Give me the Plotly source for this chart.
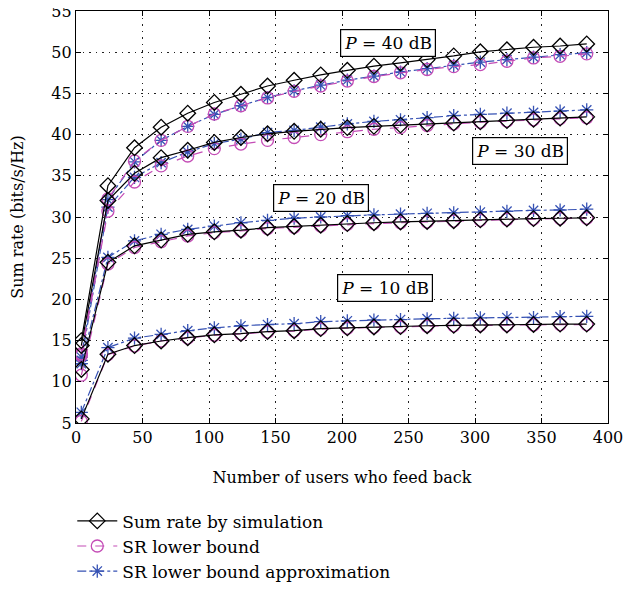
import plotly.graph_objects as go

users = [4, 24, 44, 64, 84, 104, 124, 144, 164, 184, 204, 224, 244, 264, 284, 304, 324, 344, 364, 384]

# P = 40 dB
sim_40 = [15.0, 33.8, 38.4, 40.9, 42.6, 43.9, 44.9, 45.9, 46.6, 47.25, 47.8, 48.3, 48.7, 49.1, 49.55, 50.05, 50.3, 50.6, 50.75, 51.0]
lb_40 = [13.4, 32.2, 36.8, 39.3, 41.0, 42.5, 43.5, 44.45, 45.25, 45.9, 46.5, 47.05, 47.5, 47.9, 48.25, 48.5, 48.9, 49.3, 49.5, 49.8]
ap_40 = [13.0, 32.1, 36.7, 39.3, 41.0, 42.45, 43.5, 44.5, 45.3, 46.0, 46.6, 47.1, 47.6, 48.0, 48.4, 48.8, 49.1, 49.4, 49.7, 49.95]

# P = 30 dB
sim_30 = [14.4, 32.0, 35.3, 37.2, 38.1, 39.05, 39.65, 40.1, 40.4, 40.65, 40.85, 41.0, 41.15, 41.3, 41.4, 41.55, 41.7, 41.85, 42.0, 42.15]
lb_30 = [13.2, 30.7, 34.25, 36.2, 37.4, 38.3, 38.85, 39.3, 39.65, 40.0, 40.35, 40.65, 40.85, 41.1, 41.3, 41.5, 41.65, 41.8, 41.95, 42.05]
ap_30 = [12.6, 31.2, 34.8, 36.6, 37.9, 38.9, 39.45, 40.25, 40.5, 40.9, 41.3, 41.6, 41.8, 42.05, 42.3, 42.45, 42.6, 42.7, 42.85, 43.0]

# P = 20 dB
sim_20 = [11.5, 24.5, 26.5, 27.2, 27.9, 28.2, 28.4, 28.7, 28.85, 29.0, 29.2, 29.3, 29.4, 29.45, 29.55, 29.65, 29.75, 29.8, 29.85, 29.9]
lb_20 = [10.8, 24.3, 26.3, 27.0, 27.7, 28.1, 28.3, 28.6, 28.75, 28.9, 29.1, 29.2, 29.3, 29.4, 29.5, 29.6, 29.7, 29.75, 29.8, 29.85]
ap_20 = [12.2, 25.1, 27.1, 27.9, 28.5, 28.9, 29.3, 29.6, 29.85, 30.0, 30.15, 30.25, 30.35, 30.45, 30.5, 30.6, 30.7, 30.8, 30.85, 30.95]

# P = 10 dB
sim_10 = [5.5, 13.35, 14.4, 14.95, 15.35, 15.7, 15.85, 16.1, 16.2, 16.45, 16.55, 16.65, 16.7, 16.8, 16.85, 16.9, 16.9, 16.95, 17.0, 17.0]
lb_10 = [5.2, 13.3, 14.35, 14.95, 15.3, 15.65, 15.8, 16.05, 16.15, 16.4, 16.5, 16.6, 16.65, 16.75, 16.8, 16.85, 16.85, 16.9, 16.95, 16.95]
ap_10 = [6.3, 14.15, 15.3, 15.75, 16.2, 16.55, 16.8, 16.95, 17.05, 17.3, 17.4, 17.5, 17.55, 17.65, 17.7, 17.75, 17.8, 17.8, 17.9, 17.95]

power_labels = ["<i>P</i> = 40 dB", "<i>P</i> = 30 dB", "<i>P</i> = 20 dB", "<i>P</i> = 10 dB"]
label_x = [234.5, 334, 184, 232]
label_y = [51.1, 38.05, 32.35, 21.4]

series_names = ["Sum rate by simulation", "SR lower bound", "SR lower bound approximation"]

FONT = "DejaVu Serif"
BLACK = "#000000"
MAGENTA = "#c44cb6"
BLUE = "#3652b4"

styles = [
    dict(color=BLACK, dash="solid", symbol="diamond-open", size=12),
    dict(color=MAGENTA, dash="dash", symbol="circle-open", size=12),
    dict(color=BLUE, dash="dashdot", symbol="asterisk-open", size=11),
]

groups = [
    (sim_40, lb_40, ap_40),
    (sim_30, lb_30, ap_30),
    (sim_20, lb_20, ap_20),
    (sim_10, lb_10, ap_10),
]

fig = go.Figure()
for k in [2, 1, 0]:
    st = styles[k]
    for gi, grp in enumerate(groups):
        fig.add_trace(go.Scatter(
            x=users, y=grp[k], mode="lines+markers",
            name=series_names[k], legendgroup=series_names[k],
            showlegend=(gi == 0), legendrank=k + 1,
            line=dict(color=st["color"], dash=st["dash"], width=1.2),
            marker=dict(symbol=st["symbol"], size=st["size"], color=st["color"],
                        line=dict(color=st["color"], width=1.3)),
        ))

for t, xv, yv in zip(power_labels, label_x, label_y):
    fig.add_annotation(x=xv, y=yv, text=t, showarrow=False,
                       font=dict(family=FONT, size=17, color="black"),
                       bgcolor="white", bordercolor="black", borderwidth=1.2, borderpad=3)

axis_common = dict(
    showline=True, linecolor="black", linewidth=1.2, mirror="ticks",
    ticks="inside", ticklen=5, tickcolor="black",
    showgrid=True, gridcolor="#222222", griddash="1.5px,5px", gridwidth=1,
    zeroline=False, tickfont=dict(family=FONT, size=16, color="black"),
    automargin=False, ticklabeloverflow="allow",
)

fig.update_xaxes(range=[0, 400], dtick=50, title=dict(text="Number of users who feed back",
                 font=dict(family=FONT, size=16, color="black"), standoff=25), **axis_common)
fig.update_yaxes(range=[5, 55], dtick=5, title=dict(text="Sum rate (bits/s/Hz)",
                 font=dict(family=FONT, size=16, color="black"), standoff=30), **axis_common)

fig.update_layout(
    width=633, height=582,
    margin=dict(l=68, r=33, t=3, b=167, autoexpand=False),
    plot_bgcolor="white", paper_bgcolor="white",
    font=dict(family=FONT, size=16, color="black"),
    legend=dict(x=-0.007, y=-0.195, xanchor="left", yanchor="top", traceorder="normal",
                font=dict(family=FONT, size=17, color="black"),
                bgcolor="rgba(0,0,0,0)", tracegroupgap=2.5, itemwidth=40),
    showlegend=True,
)

fig.write_html("out.html")
